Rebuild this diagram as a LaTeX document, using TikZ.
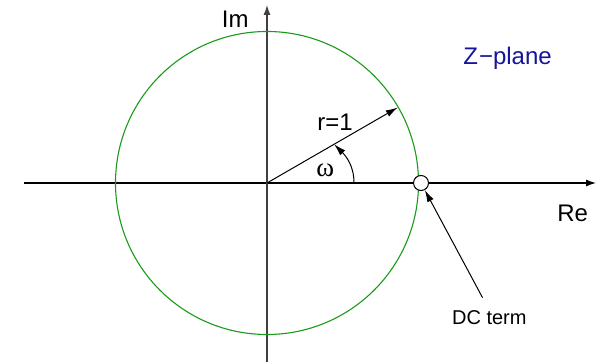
\documentclass[tikz,border=0pt]{standalone}
\usepackage{fontspec}
\setmainfont{Liberation Sans}
\newfontfamily\greekfont{Liberation Serif}
\usetikzlibrary{arrows.meta,positioning,calc}
\definecolor{unitgreen}{HTML}{1A9A1A}
\definecolor{planeblue}{HTML}{14149C}

\begin{document}
\begin{tikzpicture}[
  x=0.5pt,y=0.5pt,
  lbl/.style={inner sep=0pt,font=\fontsize{12}{14}\selectfont},
  smalllbl/.style={inner sep=0pt,font=\fontsize{10}{12}\selectfont},
  axis/.style={-{Latex[length=5pt,width=3.5pt]},line width=0.6pt},
  arr/.style={-{Latex[length=6pt,width=3.5pt]},line width=0.5pt}
]
\useasboundingbox (-267,-179) rectangle (330,183);

% Axes
\coordinate (O) at (0,0);
\coordinate (xl) at (-243,0);
\coordinate (xr) at (329,0);
\coordinate (yb) at (0,-179);
\coordinate (yt) at (0,178);
\draw[axis] (xl) -- (xr);
\draw[axis,black!75] (yb) -- (yt);

% Unit circle
\draw[unitgreen,line width=0.55pt] (O) circle (151.5);

% Radius and angle
\coordinate (rim) at (30:151);
\draw[arr] (O) -- (rim);
\coordinate (arcstart) at (87,0);
\coordinate (arcend) at (30:77.5);
\draw[arr] (arcstart) to[out=90,in=-45] (arcend);

% Labels
\node[lbl,anchor=base east] (im) at (-18,155) {Im};
\node[lbl,anchor=base west] (re) at (290,-38.5) {Re};
\node[lbl,anchor=base west,text=planeblue] (zplane) at (196,118) {Z\kern0.5pt{\char"2212}plane};
\node[lbl,anchor=base west] (rlabel) at (50,52) {r=1};
\node[lbl,anchor=base west,font=\fontsize{13.5}{15}\selectfont] (omega) at (49,6) {\greekfont ω};

% DC term
\node[circle,draw,fill=white,line width=0.5pt,minimum size=7.5pt,inner sep=0pt] (dc) at (154,0) {};
\node[smalllbl,anchor=base west] (dclabel) at (184.7,-142) {DC term};
\draw[arr] ([xshift=-3.4pt,yshift=6.5pt]dclabel.north) -- (dc);

\end{tikzpicture}
\end{document}
